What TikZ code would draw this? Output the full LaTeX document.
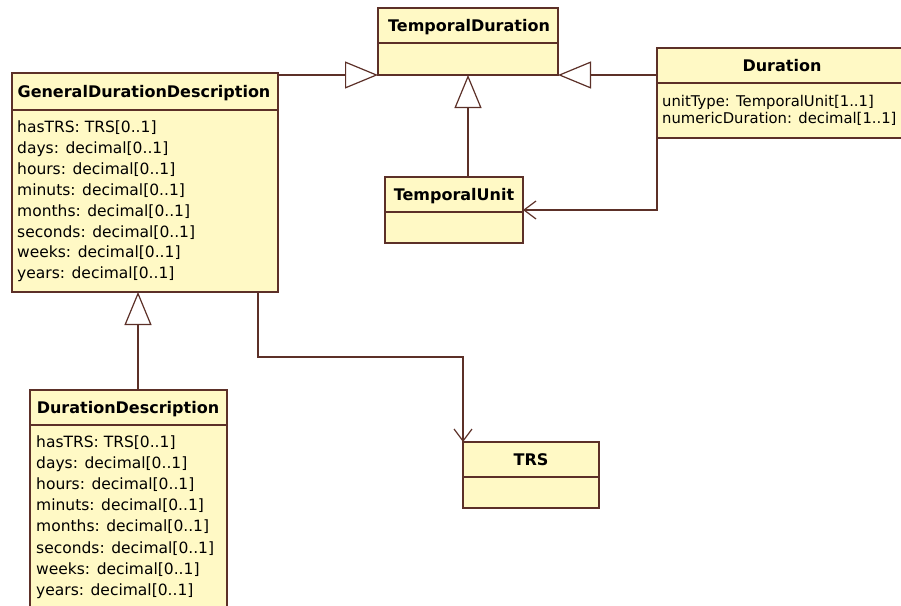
\documentclass[tikz,border=0pt]{standalone}
\usepackage{fontspec}
\setmainfont{DejaVu Sans}
\usetikzlibrary{arrows.meta,calc}
\definecolor{clsfill}{RGB}{255,249,197}
\definecolor{clsline}{RGB}{92,48,40}
\begin{document}
\begin{tikzpicture}[x=1pt,y=-1pt,
  cls/.style={draw=clsline, fill=clsfill, line width=1.3pt, rectangle, inner sep=0pt, outer sep=0pt},
  sep/.style={draw=clsline, line width=1.2pt},
  ttl/.style={font=\fontsize{16}{19}\selectfont\bfseries, anchor=base, inner sep=0pt},
  att/.style={font=\fontsize{15.5}{19}\selectfont, anchor=base west, inner sep=0pt},
  attsm/.style={att, font=\fontsize{14.8}{18}\selectfont},
  conn/.style={draw=clsline, line width=1.2pt},
  gen/.style={conn, -{Triangle[length=33pt,width=27pt,fill=white]}},
  dep/.style={conn, -{Straight Barb[length=12pt,width=18pt]}}]
\useasboundingbox (0,0) rectangle (901,605);
\begin{scope}
\clip (0,0) rectangle (901,605);
\fill[white] (0,0) rectangle (901,605);

% boxes
\node[cls, minimum width=180pt, minimum height=67pt] (td) at (468,41.5) {};
\node[cls, minimum width=138pt, minimum height=66pt] (tu) at (454,210) {};
\node[cls, minimum width=250pt, minimum height=90pt] (dur) at (782,93) {};
\node[cls, minimum width=266pt, minimum height=219pt] (gdd) at (145,182.5) {};
\node[cls, minimum width=197pt, minimum height=230pt] (dd) at (128.5,505) {};
\node[cls, minimum width=136pt, minimum height=66pt] (trs) at (531,475) {};

% dividers
\draw[sep] (td.west |- 0,43) -- (td.east |- 0,43);
\draw[sep] (tu.west |- 0,212) -- (tu.east |- 0,212);
\draw[sep] (dur.west |- 0,83) -- (dur.east |- 0,83);
\draw[sep] (gdd.west |- 0,110) -- (gdd.east |- 0,110);
\draw[sep] (dd.west |- 0,425) -- (dd.east |- 0,425);
\draw[sep] (trs.west |- 0,477) -- (trs.east |- 0,477);

% titles
\node[ttl] (tdT) at (469,31.3) {TemporalDuration};
\node[ttl] (tuT) at (454,200.3) {TemporalUnit};
\node[ttl] (durT) at (782,71.3) {Duration};
\node[ttl] (gddT) at (144,97.3) {GeneralDurationDescription};
\node[ttl] (ddT) at (128,413.3) {DurationDescription};
\node[ttl] (trsT) at (531,465.3) {TRS};

% attributes
\node[attsm] (dur1) at (662,106.5) {unitType: TemporalUnit[1..1]};
\node[attsm] (dur2) at (662,123.5) {numericDuration: decimal[1..1]};

\foreach \t [count=\i from 0] in {hasTRS: TRS[0..1],days: decimal[0..1],hours: decimal[0..1],minuts: decimal[0..1],months: decimal[0..1],seconds: decimal[0..1],weeks: decimal[0..1],years: decimal[0..1]}{
  \node[att] (gddA\i) at (17,132.5+20.9*\i) {\t};
  \node[att] (ddA\i) at (36,447.5+21.1*\i) {\t};
}

% connectors
\draw[gen] (gdd.north east |- td.south west) -- (td.south west);
\draw[gen] (dur.west |- td.south east) -- (td.south east);
\draw[gen] (td.south |- tu.north) -- (td.south);
\draw[dep] (dur.south west) |- (tu.east);
\draw[dep] ([xshift=-20pt]gdd.south east) -- ++(0,65) -| (trs.north west);
\draw[gen] (dd.north -| 138,0) -- (gdd.south -| 138,0);
\end{scope}
\end{tikzpicture}
\end{document}
